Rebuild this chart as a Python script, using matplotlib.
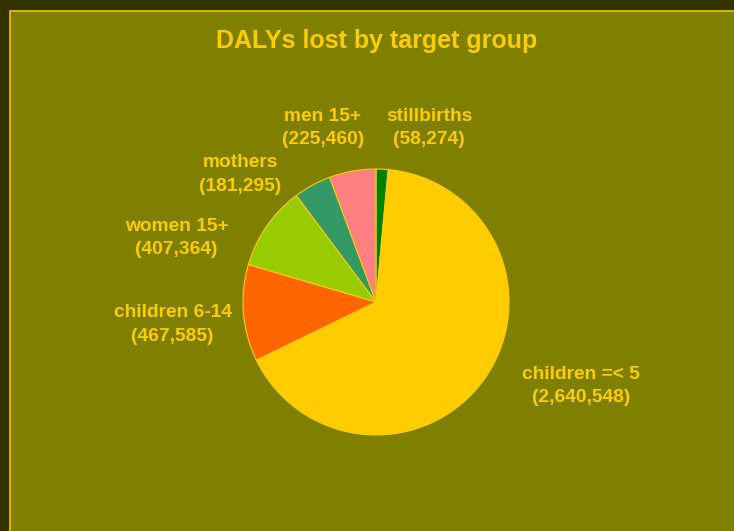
import matplotlib.pyplot as plt
from matplotlib.patches import Rectangle

plt.rcParams['font.family'] = ['Liberation Sans', 'DejaVu Sans']

# DALYs lost per target group, clockwise from 12 o'clock
groups = ["stillbirths", "children =< 5", "children 6-14",
          "women 15+", "mothers", "men 15+"]
dalys = [58274, 2640548, 467585, 407364, 181295, 225460]
colors = ["#008000", "#FFCC00", "#FF6600", "#99CC00", "#339966", "#FF8080"]

# where each label block sits, in pie-radius units from the centre
label_pos = [(0.40, 1.31), (1.54, -0.63), (-1.53, -0.17),
             (-1.50, 0.48), (-1.02, 0.96), (-0.40, 1.31)]

W, H = 734, 531
gold = "#FFCC00"
fig = plt.figure(figsize=(W / 100, H / 100), dpi=100, facecolor="#333300")

# olive chart area with gold frame, running off the right/bottom edge
fig.patches.append(Rectangle((10 / W, -0.05), 1.2, 1.05 - 10.5 / H,
                             transform=fig.transFigure, facecolor="#808000",
                             edgecolor=gold, lw=1.1, zorder=-1))

fig.text(377 / W, 1 - 41 / H, "DALYs lost by target group", color=gold,
         fontsize=18, fontweight="bold", ha="center", va="center")

cx, cy, r = 376, 302, 133
ax = fig.add_axes([(cx - r) / W, 1 - (cy + r) / H, 2 * r / W, 2 * r / H])

ax.pie(dalys, colors=colors, startangle=90, counterclock=False, radius=1,
       wedgeprops=dict(edgecolor=gold, linewidth=0.8))
ax.set_xlim(-1, 1)
ax.set_ylim(-1, 1)
ax.axis("off")

for name, val, (lx, ly) in zip(groups, dalys, label_pos):
    ax.text(lx, ly, f"{name}\n({val:,})", color=gold, fontsize=13.8,
            fontweight="bold", ha="center", va="center", linespacing=1.5)

plt.savefig("out.png", dpi=100, facecolor=fig.get_facecolor())
